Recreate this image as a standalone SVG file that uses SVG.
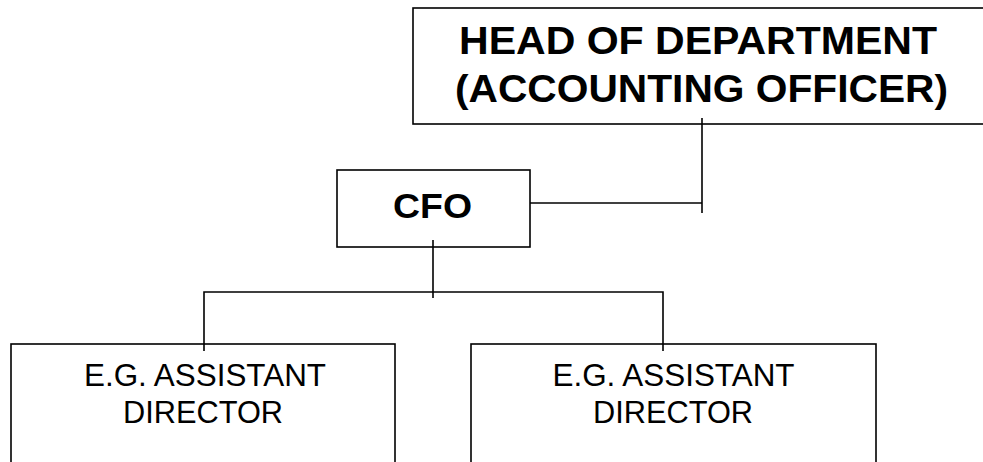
<svg xmlns="http://www.w3.org/2000/svg" width="983" height="462" viewBox="0 0 983 462">
<style>
.box{fill:#fff;stroke:#000;stroke-width:1.6}
.ln{fill:none;stroke:#000;stroke-width:1.6}
.b{font-family:"Liberation Sans",Arial,sans-serif;font-weight:bold;fill:#000;text-anchor:middle}
.n{font-family:"Liberation Sans",Arial,sans-serif;fill:#000;text-anchor:middle;font-size:32px}
</style>
<rect width="983" height="462" fill="#fff"/>
<g id="head">
<rect class="box" x="413" y="8" width="590" height="116"/>
<text class="b" x="698" y="54" font-size="38" textLength="478" lengthAdjust="spacingAndGlyphs">HEAD OF DEPARTMENT</text>
<text class="b" x="701.5" y="102" font-size="38" textLength="493" lengthAdjust="spacingAndGlyphs">(ACCOUNTING OFFICER)</text>
</g>
<g id="cfo">
<rect class="box" x="337" y="170" width="193" height="77"/>
<text class="b" x="432.5" y="218" font-size="35" textLength="79" lengthAdjust="spacingAndGlyphs">CFO</text>
</g>
<g id="ad1">
<rect class="box" x="11" y="344" width="384" height="140"/>
<text class="n" x="205" y="386" textLength="242" lengthAdjust="spacingAndGlyphs">E.G. ASSISTANT</text>
<text class="n" x="203" y="423" textLength="160" lengthAdjust="spacingAndGlyphs">DIRECTOR</text>
</g>
<g id="ad2">
<rect class="box" x="471" y="344" width="405" height="140"/>
<text class="n" x="673.5" y="386" textLength="242" lengthAdjust="spacingAndGlyphs">E.G. ASSISTANT</text>
<text class="n" x="673" y="423" textLength="160" lengthAdjust="spacingAndGlyphs">DIRECTOR</text>
</g>
<g id="connectors">
<path class="ln" d="M702 118 V213"/>
<path class="ln" d="M530 203 H702"/>
<path class="ln" d="M433 240 V298"/>
<path class="ln" d="M204 351 V292 H663 V351"/>
</g>
</svg>
